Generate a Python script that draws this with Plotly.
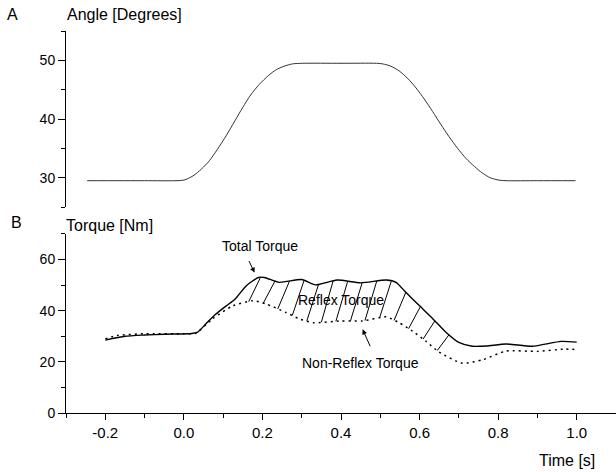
import numpy as np
import plotly.graph_objects as go

# ---- data ----
angle_t = [-0.246, -0.10, -0.02, 0.0, 0.023, 0.045, 0.065, 0.085, 0.108, 0.13, 0.150, 0.17, 0.192,
           0.215, 0.235, 0.255, 0.277, 0.302, 0.40, 0.49, 0.506, 0.527, 0.548, 0.57, 0.591, 0.612,
           0.633, 0.655, 0.675, 0.697, 0.718, 0.74, 0.760, 0.78, 0.802, 0.82, 0.90, 0.997]
angle_v = [29.5, 29.5, 29.5, 29.6, 30.3, 31.5, 32.9, 34.8, 37.2, 39.7, 42.0, 44.1, 45.9,
           47.4, 48.4, 49.0, 49.4, 49.5, 49.5, 49.5, 49.4, 49.0, 48.2, 46.9, 45.3, 43.4,
           41.3, 39.0, 37.0, 35.0, 33.3, 31.9, 30.8, 30.0, 29.6, 29.5, 29.5, 29.5]

total_t = [-0.20, -0.15, -0.10, -0.05, 0.02, 0.035, 0.057, 0.08, 0.108, 0.13, 0.159, 0.19, 0.205,
           0.243, 0.30, 0.335, 0.39, 0.45, 0.515, 0.54, 0.565, 0.60, 0.633, 0.667, 0.70, 0.734,
           0.77, 0.82, 0.887, 0.96, 1.0]
total_v = [28.5, 30.0, 30.5, 30.8, 31.1, 31.6, 35.0, 38.5, 41.9, 44.5, 49.8, 53.0, 53.0,
           51.1, 52.2, 50.1, 52.0, 50.9, 52.0, 51.1, 47.2, 41.9, 37.0, 31.6, 27.6, 26.1,
           26.2, 27.0, 26.1, 28.0, 27.7]

nonrefl_t = [-0.20, -0.17, -0.10, 0.0, 0.03, 0.074, 0.125, 0.175, 0.21, 0.26, 0.294, 0.33, 0.40,
             0.455, 0.515, 0.548, 0.582, 0.616, 0.65, 0.709, 0.76, 0.82, 0.90, 0.97, 1.0]
nonrefl_v = [29.0, 30.3, 31.0, 31.0, 31.2, 37.0, 41.9, 43.9, 42.6, 39.3, 36.8, 35.3, 36.0,
             36.0, 37.6, 35.3, 32.0, 28.1, 23.8, 19.5, 20.8, 24.2, 24.1, 25.0, 24.8]

hatch_t = [0.165, 0.202, 0.239, 0.276, 0.313, 0.350, 0.387, 0.424, 0.461, 0.498,
           0.535, 0.572, 0.609, 0.645]
hatch_dt = 0.03

x_tick_vals = [-0.2, 0.0, 0.2, 0.4, 0.6, 0.8, 1.0]
x_tick_text = ["-0.2", "0.0", "0.2", "0.4", "0.6", "0.8", "1.0"]
x_minor_vals = [-0.3, -0.1, 0.1, 0.3, 0.5, 0.7, 0.9, 1.1]

FONT = "Liberation Sans, Arial, Helvetica, sans-serif"

fig = go.Figure()

fig.add_trace(go.Scatter(x=angle_t, y=angle_v, mode="lines", line=dict(color="#333333", width=1, shape="spline", smoothing=0.8),
                         xaxis="x", yaxis="y", hoverinfo="skip"))

# hatch lines between non-reflex and total torque
hx, hy = [], []
for t in hatch_t:
    hx += [t, t + hatch_dt, None]
    hy += [float(np.interp(t, nonrefl_t, nonrefl_v)), float(np.interp(t + hatch_dt, total_t, total_v)), None]
fig.add_trace(go.Scatter(x=hx, y=hy, mode="lines", line=dict(color="black", width=1),
                         xaxis="x2", yaxis="y2", hoverinfo="skip"))

fig.add_trace(go.Scatter(x=nonrefl_t, y=nonrefl_v, mode="lines",
                         line=dict(color="black", width=1.5, dash="2px,4px", shape="spline", smoothing=0.6),
                         xaxis="x2", yaxis="y2", hoverinfo="skip"))
fig.add_trace(go.Scatter(x=total_t, y=total_v, mode="lines",
                         line=dict(color="black", width=1.4, shape="spline", smoothing=0.6),
                         xaxis="x2", yaxis="y2", hoverinfo="skip"))

axis_common = dict(showgrid=False, zeroline=False, linecolor="black", linewidth=1,
                   ticks="outside", tickcolor="black", tickwidth=1)
yfont = dict(family=FONT, size=14, color="black")
xfont = dict(family=FONT, size=15, color="black")

fig.update_layout(
    width=616, height=472, showlegend=False,
    margin=dict(l=66, r=0, t=31, b=59),
    paper_bgcolor="white", plot_bgcolor="white",
    font=dict(family=FONT, color="black"),
    xaxis=dict(domain=[0, 1], range=[-0.3, 1.1], anchor="y", visible=False),
    yaxis=dict(domain=[0.539, 1], range=[25, 55], anchor="x", showline=True,
               tickvals=[30, 40, 50], ticklen=7, tickfont=yfont,
               minor=dict(tickvals=[25, 35, 45, 55], ticklen=4, ticks="outside", tickcolor="black", showgrid=False),
               **axis_common),
    xaxis2=dict(domain=[0, 1], range=[-0.3, 1.1], anchor="y2", showline=True,
                tickvals=x_tick_vals, ticktext=x_tick_text, ticklen=6, tickfont=xfont,
                minor=dict(tickvals=x_minor_vals, ticklen=4, ticks="outside", tickcolor="black", showgrid=False),
                **axis_common),
    yaxis2=dict(domain=[0, 0.4686], range=[0, 70], anchor="x2", showline=True,
                tickvals=[0, 20, 40, 60], ticklen=7, tickfont=yfont,
                minor=dict(tickvals=[10, 30, 50, 70], ticklen=4, ticks="outside", tickcolor="black", showgrid=False),
                **axis_common),
)

def px2paper(px, py):
    return (px - 66) / 550.0, (413 - py) / 382.0

labels = [
    ("A", 12.8, 15, 16, "center"),
    ("Angle [Degrees]", 65, 15, 16, "left"),
    ("B", 16.7, 222, 16, "center"),
    ("Torque [Nm]", 64, 225, 16, "left"),
    ("Time [s]", 566.7, 460, 16, "center"),
]
for txt, px, py, sz, al in labels:
    x, y = px2paper(px, py)
    fig.add_annotation(text=txt, x=x, y=y, xref="paper", yref="paper", showarrow=False,
                       xanchor=al, yanchor="middle", font=dict(family=FONT, size=sz, color="black"))

# in-plot labels
fig.add_annotation(text="Total Torque", x=0.193, y=65.5, xref="x2", yref="y2", showarrow=False,
                   font=dict(family=FONT, size=14, color="black"))
fig.add_annotation(text="Reflex Torque", x=0.401, y=44.2, xref="x2", yref="y2", showarrow=False,
                   font=dict(family=FONT, size=14, color="black"))
fig.add_annotation(text="Non-Reflex Torque", x=0.450, y=19.5, xref="x2", yref="y2", showarrow=False,
                   font=dict(family=FONT, size=14, color="black"))
# arrows
fig.add_annotation(text="", x=0.180, y=54.9, ax=0.164, ay=60.0, xref="x2", yref="y2", axref="x2", ayref="y2",
                   showarrow=True, arrowhead=2, arrowsize=1, arrowwidth=1, arrowcolor="black")
fig.add_annotation(text="", x=0.455, y=32.7, ax=0.476, ay=25.5, xref="x2", yref="y2", axref="x2", ayref="y2",
                   showarrow=True, arrowhead=2, arrowsize=1, arrowwidth=1, arrowcolor="black")

fig.write_html("out.html")
